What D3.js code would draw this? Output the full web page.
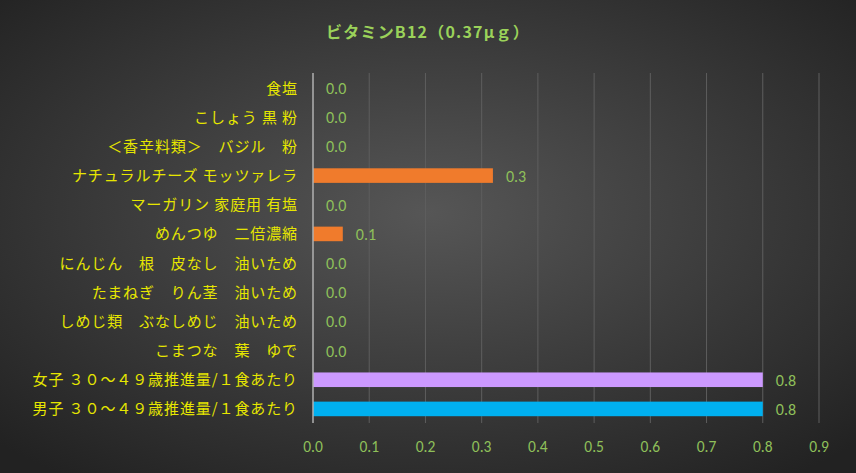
<!DOCTYPE html>
<html><head><meta charset="utf-8">
<script src="https://cdn.jsdelivr.net/npm/d3@7"></script>
<style>body{margin:0;}svg{display:block;}</style>
</head><body>
<svg id="chart" width="856" height="473"></svg>
<script>
var categories = ["食塩","こしょう 黒 粉","＜香辛料類＞　バジル　粉","ナチュラルチーズ モッツァレラ","マーガリン 家庭用 有塩","めんつゆ　二倍濃縮","にんじん　根　皮なし　油いため","たまねぎ　りん茎　油いため","しめじ類　ぶなしめじ　油いため","こまつな　葉　ゆで","女子 ３０～４９歳推進量/１食あたり","男子 ３０～４９歳推進量/１食あたり"];
var values = [0, 0, 0, 0.32, 0, 0.053, 0, 0, 0, 0, 0.8, 0.8];
var valueLabels = ["0.0","0.0","0.0","0.3","0.0","0.1","0.0","0.0","0.0","0.0","0.8","0.8"];
var barColors = ["#f07b2c","#f07b2c","#f07b2c","#f07b2c","#f07b2c","#f07b2c","#f07b2c","#f07b2c","#f07b2c","#f07b2c","#cc99ff","#00b0f0"];
var ticks = [0,0.1,0.2,0.3,0.4,0.5,0.6,0.7,0.8,0.9];

var svg = d3.select("#chart");
var defs = svg.append("defs");
var grad = defs.append("radialGradient").attr("id","bg").attr("cx","50%").attr("cy","45%").attr("r","70%");
grad.append("stop").attr("offset","0%").attr("stop-color","#565656");
grad.append("stop").attr("offset","100%").attr("stop-color","#222");
svg.append("rect").attr("width",856).attr("height",473).attr("fill","url(#bg)");

svg.append("text").attr("x",428).attr("y",38).attr("text-anchor","middle")
    .attr("fill","#9bd25a").attr("font-family","'Noto Sans CJK JP'").attr("font-size",16).attr("font-weight","bold")
    .attr("letter-spacing",1.2)
    .text("ビタミンB12（0.37μｇ）");

var x = d3.scaleLinear().domain([0,0.9]).range([313,819]);
var y = d3.scaleBand().domain(categories).range([73.5,423.5]).paddingInner(0.5).paddingOuter(0.25);

svg.append("g").selectAll("line").data(ticks.slice(1)).join("line")
    .attr("x1",d=>x(d)).attr("x2",d=>x(d)).attr("y1",73).attr("y2",423)
    .attr("stroke","#5e5e5e").attr("stroke-width",1);

svg.append("g").selectAll("rect").data(values).join("rect")
    .attr("x",x(0)).attr("y",(d,i)=>y(categories[i]))
    .attr("width",d=>x(d)-x(0)).attr("height",y.bandwidth())
    .attr("fill",(d,i)=>barColors[i]);

svg.append("line").attr("x1",313).attr("x2",313).attr("y1",73).attr("y2",423)
    .attr("stroke","#b0b0b0").attr("stroke-width",1.5);

svg.append("g").selectAll("text").data(categories).join("text")
    .attr("x",298).attr("y",d=>y(d)+y.bandwidth()/2+5.5).attr("text-anchor","end")
    .attr("fill","#e6e600").attr("font-family","'Noto Sans CJK JP'").attr("font-size",15)
    .attr("letter-spacing",0.9)
    .text(d=>d);

svg.append("g").selectAll("text").data(values).join("text")
    .attr("x",d=>x(d)+13).attr("y",(d,i)=>y(categories[i])+y.bandwidth()/2+6)
    .attr("fill","#8fc05a").attr("font-family","Carlito,'Liberation Sans'").attr("font-size",16)
    .text((d,i)=>valueLabels[i]);

svg.append("g").selectAll("text").data(ticks).join("text")
    .attr("x",d=>x(d)).attr("y",452).attr("text-anchor","middle")
    .attr("fill","#8fc05a").attr("font-family","Carlito,'Liberation Sans'").attr("font-size",15.5)
    .text(d3.format(".1f"));
</script>
</body></html>
